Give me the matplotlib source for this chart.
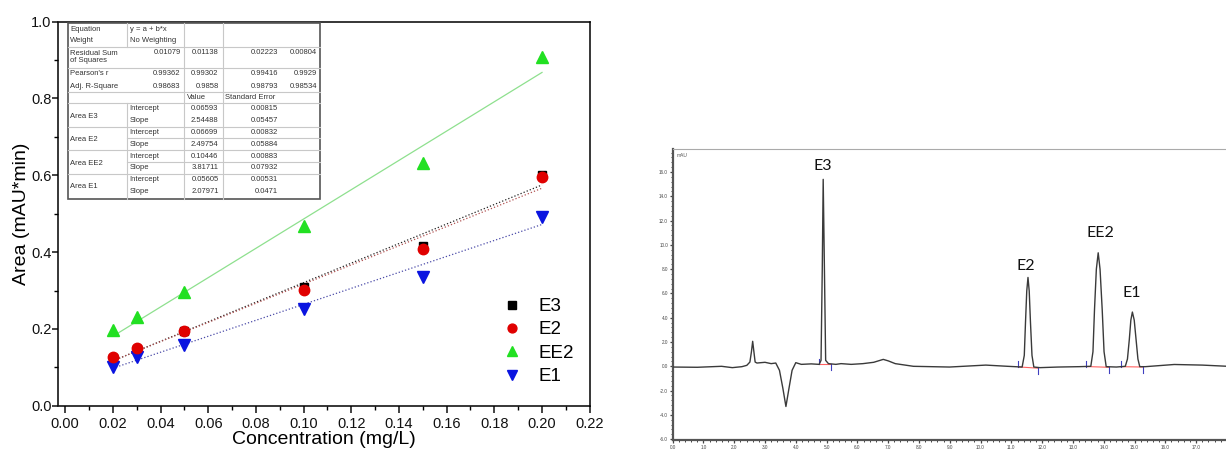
import numpy as np
import matplotlib
matplotlib.use("Agg")
import matplotlib.pyplot as plt
from matplotlib.patches import Rectangle
from matplotlib.ticker import MultipleLocator, FormatStrFormatter

plt.rcParams['font.family'] = ['Liberation Sans', 'DejaVu Sans']

W, H = 1226, 450

# ---- calibration data (left panel) ----
conc = [0.02, 0.03, 0.05, 0.10, 0.15, 0.20]
area_e3 = [0.125, 0.148, 0.195, 0.310, 0.416, 0.600]
area_e2 = [0.128, 0.149, 0.194, 0.301, 0.408, 0.596]
area_ee2 = [0.197, 0.230, 0.295, 0.469, 0.633, 0.909]
area_e1 = [0.100, 0.126, 0.158, 0.253, 0.336, 0.492]

series_names = ["E3", "E2", "EE2", "E1"]
intercepts = [0.06593, 0.06699, 0.10446, 0.05605]
slopes = [2.54488, 2.49754, 3.81711, 2.07971]
intercept_err = ["0.00815", "0.00832", "0.00883", "0.00531"]
slope_err = ["0.05457", "0.05884", "0.07932", "0.0471"]
rss = ["0.01079", "0.01138", "0.02223", "0.00804"]
pearson_r = ["0.99362", "0.99302", "0.99416", "0.9929"]
adj_r2 = ["0.98683", "0.9858", "0.98793", "0.98534"]

# ---- chromatogram trace (right panel), time in min, signal in mAU ----
t_min = [0.0, 0.8, 1.59, 1.94, 2.25, 2.41, 2.51, 2.56, 2.60, 2.64, 2.68, 2.74,
         3.0, 3.2, 3.35, 3.47, 3.58, 3.68, 3.78, 3.88, 4.0, 4.18, 4.5, 4.76,
         4.82, 4.86, 4.89, 4.93, 4.97, 5.06, 5.3, 5.47, 5.8, 6.18, 6.53, 6.84,
         7.0, 7.23, 7.82, 8.99, 10.17, 10.88, 11.35, 11.42, 11.46, 11.50, 11.54,
         11.58, 11.62, 11.67, 11.73, 11.93, 12.52, 13.2, 13.58, 13.65, 13.70,
         13.76, 13.82, 13.88, 13.95, 14.01, 14.08, 14.41, 14.70, 14.77, 14.83,
         14.88, 14.93, 14.99, 15.05, 15.11, 15.17, 15.35, 16.29, 17.2, 18.03]
signal = [-0.06, -0.08, 0.0, -0.11, -0.03, 0.08, 0.35, 1.2, 2.06, 1.2, 0.35, 0.27,
          0.33, 0.22, 0.27, -0.33, -1.8, -3.31, -1.8, -0.33, 0.30, 0.16, 0.2, 0.16,
          0.49, 8.0, 15.4, 8.0, 0.49, 0.22, 0.16, 0.22, 0.16, 0.22, 0.33, 0.57,
          0.45, 0.22, 0.0, -0.06, 0.1, 0.0, -0.06, 0.9, 3.66, 6.2, 7.32,
          6.2, 3.66, 0.9, -0.06, -0.11, -0.06, -0.03, 0.0, 1.2, 4.67,
          8.0, 9.35, 8.0, 4.67, 1.2, -0.03, -0.06, 0.0, 0.6, 2.2,
          3.8, 4.47, 3.8, 2.2, 0.6, -0.03, -0.03, 0.15, 0.1, 0.0]

peak_names = ["E3", "E2", "EE2", "E1"]
peak_label_t = [4.87, 11.48, 13.9, 14.9]
peak_label_s = [16.5, 8.27, 11.0, 6.0]
base_start = [4.76, 11.23, 13.44, 14.55]
base_end = [5.14, 11.85, 14.17, 15.29]
base_level_start = [0.16, -0.05, -0.02, -0.03]
base_level_end = [0.16, -0.15, -0.08, -0.06]


def fx(px):
    return px / W


def fy(py):
    return 1 - py / H


fig = plt.figure(figsize=(W / 100, H / 100), dpi=100)

# ================= left panel =================
ax1 = fig.add_axes([fx(58.5), fy(405.7), (589.7 - 58.5) / W, (405.7 - 21.7) / H])
line_styles = [dict(color='#222222', ls=':', lw=0.9),
               dict(color='#b05050', ls=':', lw=0.9),
               dict(color='#8ee08e', ls='-', lw=0.9),
               dict(color='#4a4aa8', ls=':', lw=0.9)]
xfit = np.array([conc[0], conc[-1]])
for b0, b1, st in zip(intercepts, slopes, line_styles):
    ax1.plot(xfit, b0 + b1 * xfit, zorder=2, **st)

ax1.plot(conc, area_e3, 's', color='black', ms=6, ls='none', label='E3', zorder=3)
ax1.plot(conc, area_e2, 'o', color='#e00000', ms=7.5, ls='none', label='E2', zorder=4)
ax1.plot(conc, area_ee2, '^', color='#22e022', ms=8.5, ls='none', label='EE2', zorder=3)
ax1.plot(conc, area_e1, 'v', color='#0a14e0', ms=8.5, ls='none', label='E1', zorder=3)

ax1.set_xlim(-0.0028, 0.22)
ax1.set_ylim(0.0, 1.0)
ax1.xaxis.set_major_locator(MultipleLocator(0.02))
ax1.xaxis.set_minor_locator(MultipleLocator(0.01))
ax1.yaxis.set_major_locator(MultipleLocator(0.2))
ax1.yaxis.set_minor_locator(MultipleLocator(0.1))
ax1.xaxis.set_major_formatter(FormatStrFormatter('%.2f'))
ax1.yaxis.set_major_formatter(FormatStrFormatter('%.1f'))
ax1.tick_params(which='major', direction='out', length=5, width=1.1, labelsize=10.5,
                colors='#111111')
ax1.tick_params(axis='x', which='major', pad=3)
ax1.tick_params(axis='y', which='major', length=4, pad=1)
ax1.tick_params(which='minor', direction='out', length=3, width=1.0)
for sp in ax1.spines.values():
    sp.set_linewidth(1.1)
ax1.set_xlabel('Concentration (mg/L)', fontsize=14, labelpad=0)
ax1.set_ylabel('Area (mAU*min)', fontsize=14, labelpad=1)

ax1.legend(frameon=False, loc='upper left', bbox_to_anchor=(fx(503), fy(298)),
           bbox_transform=fig.transFigure, fontsize=13.5, handlelength=1.0,
           handletextpad=0.9, labelspacing=0.33, borderpad=0, borderaxespad=0,
           markerscale=0.85)

# ---- fit results table ----
tf = fig.transFigure
L, R, T, B = 68, 320, 23, 199.3
fig.patches.append(Rectangle((fx(L), fy(B)), (R - L) / W, (B - T) / H, transform=tf,
                             facecolor='white', edgecolor='#555555', lw=1.2, zorder=5))
grid_kw = dict(transform=tf, color='#c8c8c8', lw=0.8, zorder=6)
for yy in [46.5, 68, 91.5, 103, 126.5, 150, 173.5]:
    fig.add_artist(plt.Line2D([fx(L), fx(R)], [fy(yy), fy(yy)], **grid_kw))
for yy in [138, 162]:
    fig.add_artist(plt.Line2D([fx(126.5), fx(R)], [fy(yy), fy(yy)], **grid_kw))
for xx, y0, y1 in [(126.5, T, 46.5), (126.5, 103, B), (183.8, T, B), (222.5, T, B)]:
    fig.add_artist(plt.Line2D([fx(xx), fx(xx)], [fy(y0), fy(y1)], **grid_kw))

tkw = dict(transform=tf, fontsize=5.5, color='#333333', va='center', zorder=7)
stat_rows = [("Equation", 29.3), ("Weight", 41), ("Residual Sum\nof Squares", 57.2),
             ("Pearson's r", 73.3), ("Adj. R-Square", 86)]
for lab, yy in stat_rows:
    fig.text(fx(70.4), fy(yy), lab, ha='left', linespacing=1.0, **tkw)
fig.text(fx(129.6), fy(29.3), "y = a + b*x", ha='left', **tkw)
fig.text(fx(129.6), fy(41), "No Weighting", ha='left', **tkw)
col_right = [180.6, 218.6, 278, 317]
for vals, yy in [(rss, 52.7), (pearson_r, 73.3), (adj_r2, 86)]:
    for v, xr in zip(vals, col_right):
        fig.text(fx(xr), fy(yy), v, ha='right', **tkw)
fig.text(fx(196.4), fy(97.3), "Value", ha='center', **tkw)
fig.text(fx(225), fy(97.3), "Standard Error", ha='left', **tkw)
int_rows = [109, 132.3, 156, 179.3]
slope_rows = [120.7, 144, 167.7, 191.7]
for name, yi, ys, b0, b1, e0, e1 in zip(series_names, int_rows, slope_rows,
                                        intercepts, slopes, intercept_err, slope_err):
    fig.text(fx(70.4), fy((yi + ys) / 2 + 1.5), "Area " + name, ha='left', **tkw)
    fig.text(fx(129.6), fy(yi), "Intercept", ha='left', **tkw)
    fig.text(fx(129.6), fy(ys), "Slope", ha='left', **tkw)
    fig.text(fx(218.6), fy(yi), f"{b0:g}", ha='right', **tkw)
    fig.text(fx(218.6), fy(ys), f"{b1:g}", ha='right', **tkw)
    fig.text(fx(278), fy(yi), e0, ha='right', **tkw)
    fig.text(fx(278), fy(ys), e1, ha='right', **tkw)

# ================= right panel: chromatogram =================
ax2 = fig.add_axes([fx(672.6), fy(440), (W - 672.6) / W, (440 - 149) / H])
ax2.plot(t_min, signal, color='#3a3a3a', lw=1.0, zorder=3)
for t0, t1, s0, s1 in zip(base_start, base_end, base_level_start, base_level_end):
    ax2.plot([t0, t1], [s0, s1], color='#ff6060', lw=0.8, zorder=2)
    ax2.plot([t0, t0], [s0, s0 + 0.45], color='#4040c0', lw=0.8, zorder=2)
    ax2.plot([t1, t1], [s1, s1 - 0.5], color='#4040c0', lw=0.8, zorder=2)
for name, tx, sy in zip(peak_names, peak_label_t, peak_label_s):
    ax2.text(tx, sy, name, ha='center', va='center', fontsize=11.5,
             family=['Lato', 'DejaVu Sans'], color='#111111')
ax2.text(0.008, 0.985, "mAU", transform=ax2.transAxes, fontsize=3.5, color='#555555',
         ha='left', va='top')

ax2.set_xlim(0, 17.97)
ax2.set_ylim(-6.07, 17.9)
ax2.xaxis.set_major_locator(MultipleLocator(1.0))
ax2.xaxis.set_minor_locator(MultipleLocator(0.2))
ax2.yaxis.set_major_locator(MultipleLocator(2.0))
ax2.yaxis.set_minor_locator(MultipleLocator(0.4))
ax2.xaxis.set_major_formatter(FormatStrFormatter('%.1f'))
ax2.yaxis.set_major_formatter(FormatStrFormatter('%.1f'))
ax2.tick_params(which='major', direction='out', length=2.5, width=0.9, labelsize=3.3,
                colors='#444444', pad=0.8)
ax2.tick_params(which='minor', direction='out', length=1.5, width=0.7, colors='#444444')
ax2.spines['right'].set_visible(False)
ax2.spines['top'].set_color('#aaaaaa')
ax2.spines['top'].set_linewidth(0.8)
ax2.spines['left'].set_color('#555555')
ax2.spines['left'].set_linewidth(1.6)
ax2.spines['bottom'].set_color('#555555')
ax2.spines['bottom'].set_linewidth(1.6)

fig.savefig('out.png', dpi=100)
